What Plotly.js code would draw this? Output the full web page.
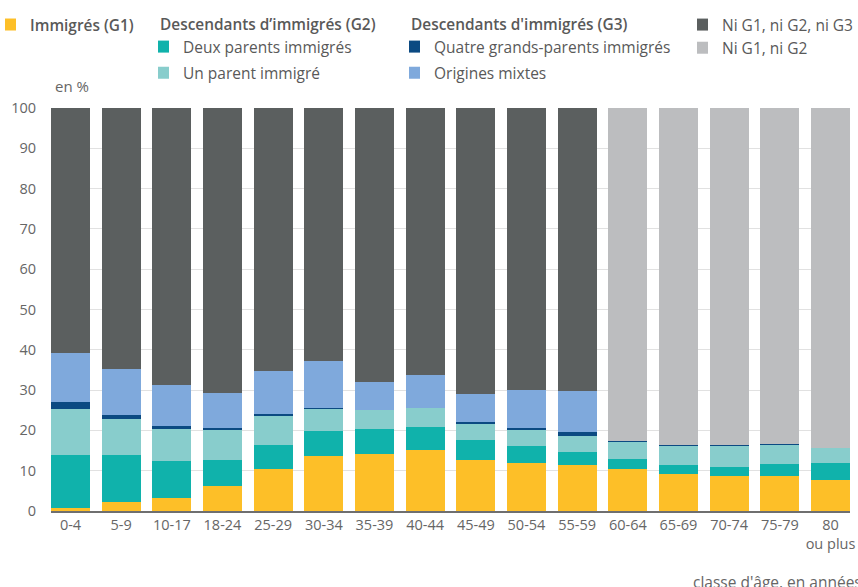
<!DOCTYPE html>
<html>
<head>
<meta charset="utf-8">
<script src="https://cdn.plot.ly/plotly-3.0.1.min.js"></script>
<style>
  html, body { margin: 0; padding: 0; background: #fff; }
  #graph { width: 858px; height: 587px; }
</style>
</head>
<body>
<div id="graph"></div>
<script>
// classes d'âge
const ages = ["0-4", "5-9", "10-17", "18-24", "25-29", "30-34", "35-39", "40-44",
  "45-49", "50-54", "55-59", "60-64", "65-69", "70-74", "75-79", "80<br>ou plus"];

// valeurs en %
const immigres = [0.8, 2.2, 3.2, 6.1, 10.4, 13.6, 14.1, 15.1, 12.6, 11.9, 11.4, 10.4, 9.1, 8.6, 8.6, 7.6];
const deuxParents = [13.1, 11.7, 9.2, 6.5, 5.9, 6.2, 6.2, 5.7, 5.0, 4.2, 3.2, 2.5, 2.3, 2.3, 3.0, 4.3];
const unParent = [11.4, 8.9, 7.9, 7.5, 7.2, 5.5, 4.7, 4.7, 4.0, 4.0, 4.0, 4.2, 4.7, 5.2, 4.7, 3.7];
const quatreGP = [1.7, 1.0, 0.8, 0.5, 0.5, 0.2, 0.1, 0.1, 0.5, 0.5, 1.0, 0.2, 0.2, 0.2, 0.3, 0];
const mixtes = [12.2, 11.4, 10.1, 8.7, 10.8, 11.7, 6.9, 8.1, 6.9, 9.4, 10.2, null, null, null, null, null];
const niG3 = [60.8, 64.8, 68.8, 70.7, 65.2, 62.8, 68.0, 66.3, 71.0, 70.0, 70.2, null, null, null, null, null];
const niG2 = [null, null, null, null, null, null, null, null, null, null, null, 82.7, 83.7, 83.7, 83.4, 84.4];

const font = "Open Sans, sans-serif";

const bar = (y, name, color, legend) => ({
  x: ages,
  y: y,
  type: "bar",
  name: name,
  legend: legend,
  legendgroup: name,
  marker: { color: color, line: { width: 0 } },
  hoverinfo: "y+name",
});

const traces = [
  bar(immigres, "Immigrés (G1)", "#fdbf28", "legend"),
  bar(deuxParents, "Deux parents immigrés", "#10b2ab", "legend2"),
  bar(unParent, "Un parent immigré", "#88cdcc", "legend2"),
  bar(quatreGP, "Quatre grands-parents immigrés", "#0b4a82", "legend3"),
  bar(mixtes, "Origines mixtes", "#7fa9dc", "legend3"),
  bar(niG3, "Ni G1, ni G2, ni G3", "#5b5f5f", "legend4"),
  bar(niG2, "Ni G1, ni G2", "#bcbdbf", "legend4"),
];

const W = 858, H = 587;
const titleFont = { family: font, size: 15.4, color: "#595959", weight: 600 };
const legendBase = {
  xref: "container", yref: "container",
  xanchor: "left", yanchor: "top",
  orientation: "v",
  traceorder: "grouped",
  tracegroupgap: 3,
  indentation: -15,
  bgcolor: "rgba(0,0,0,0)",
  font: { family: font, size: 15.5, color: "#595959" },
  itemclick: false,
};

const layout = {
  width: W,
  height: H,
  margin: { l: 51, r: 8, t: 108, b: 76, autoexpand: false },
  paper_bgcolor: "#fff",
  plot_bgcolor: "#fff",
  barmode: "stack",
  bargap: 0.23,
  font: { family: font, size: 14.5, color: "#666" },
  xaxis: {
    type: "category",
    range: [-0.385, 15.385],
    showgrid: false,
    showline: true,
    linecolor: "#6f6f6f",
    linewidth: 2,
    ticks: "",
    tickangle: 0,
    tickfont: { family: font, size: 14.5, color: "#666" },
    fixedrange: true,
  },
  yaxis: {
    range: [0, 100],
    dtick: 10,
    gridcolor: "#e1e1e1",
    gridwidth: 1,
    zeroline: false,
    ticks: "",
    ticklabelstandoff: 14,
    tickfont: { family: font, size: 14.5, color: "#666" },
    fixedrange: true,
  },
  showlegend: true,
  legend: Object.assign({}, legendBase, {
    x: 5 / W, y: 1 - 8 / H,
    font: titleFont,
  }),
  legend2: Object.assign({}, legendBase, {
    x: 158 / W, y: 1 - 10 / H,
    title: { text: "Descendants d’immigrés (G2)", side: "top", font: titleFont },
  }),
  legend3: Object.assign({}, legendBase, {
    x: 409 / W, y: 1 - 10 / H,
    title: { text: "Descendants d'immigrés (G3)", side: "top", font: titleFont },
  }),
  legend4: Object.assign({}, legendBase, {
    x: 697 / W, y: 1 - 8 / H,
    tracegroupgap: 0,
  }),
  annotations: [
    {
      text: "en %", xref: "paper", yref: "paper", x: 0, y: 1,
      xshift: 2, yshift: 10, xanchor: "left", yanchor: "bottom",
      showarrow: false, font: { family: font, size: 15, color: "#666" },
    },
    {
      text: "classe d'âge, en années", xref: "paper", yref: "paper",
      x: 1, y: 0, xshift: 14, yshift: -58, xanchor: "right", yanchor: "top",
      showarrow: false, font: { family: font, size: 15.5, color: "#666" },
    },
  ],
};

Plotly.newPlot("graph", traces, layout, { displayModeBar: false, staticPlot: true });
</script>
</body>
</html>
